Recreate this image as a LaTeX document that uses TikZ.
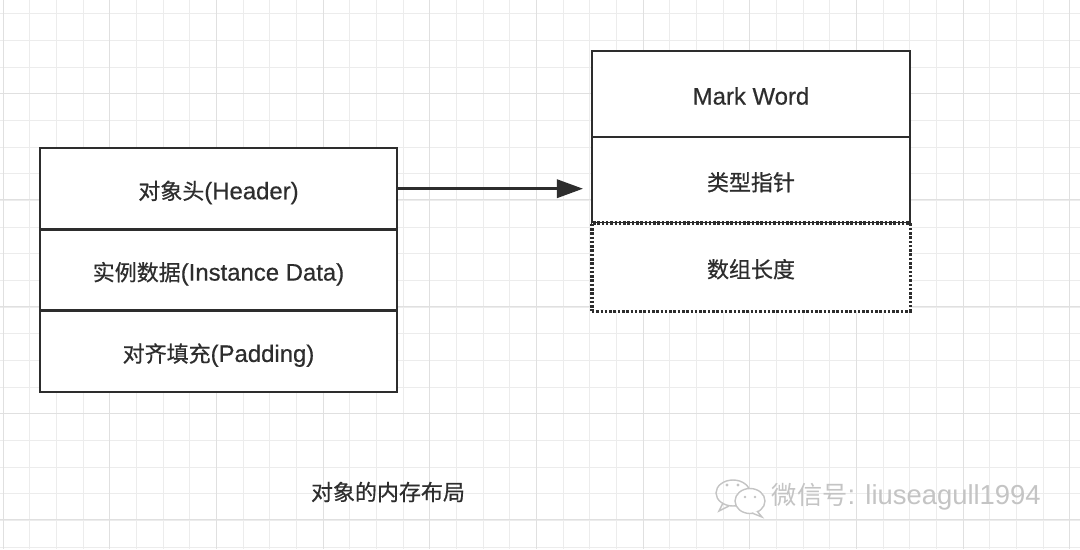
\documentclass[tikz,border=0pt]{standalone}
\usepackage{fontspec}
\setmainfont{Liberation Sans}[FakeBold=0.5]
\newfontfamily\cjk[Scale=0.92, FakeBold=0.6]{Noto Sans CJK SC}
\newfontfamily\marklatin{Liberation Sans}
\newfontfamily\markcjk[Scale=0.92]{Noto Sans CJK SC}
\usetikzlibrary{arrows.meta,positioning}
\definecolor{inkgray}{RGB}{45,45,45}
\definecolor{gridminor}{RGB}{236,236,236}
\definecolor{gridmajor}{RGB}{224,224,224}
\definecolor{markgray}{RGB}{196,196,196}

\begin{document}
\begin{tikzpicture}[x=0.025cm, y=-0.025cm, font=\fontsize{17}{20}\selectfont, text=inkgray,
    gridline/.style={draw=gridminor, line width=0.025cm},
    gridbold/.style={draw=gridmajor, line width=0.03cm},
    cell/.style={rectangle, draw=inkgray, fill=white, line width=2pt, inner sep=0pt, outer sep=0pt, align=center, text height=15pt, text depth=0pt},
    leftcell/.style={cell, minimum width=8.925cm, minimum height=2.033cm},
    rightcell/.style={cell, minimum width=7.95cm, minimum height=2.15cm},
    dotcell/.style={line width=2.2pt, dash pattern=on 1.8pt off 1.25pt, minimum height=2.2cm},
    link/.style={draw=inkgray, line width=1.8pt, -{Triangle[length=18.5pt,width=13pt]}}]

        % Background grid
        \fill[white] (0,0) rectangle (1080,549);
        \useasboundingbox (0,0) rectangle (1080,549);
        \foreach \i in {0,...,40} \draw[gridline] ({round(2.7+26.667*\i)+0.5},0) -- ++(0,549);
        \foreach \i in {0,...,20} \draw[gridline] (0,{round(13.3+26.667*\i)+0.5}) -- ++(1080,0);
        \foreach \i in {0,...,10} \draw[gridbold] ({round(2.7+106.667*\i)+0.5},0) -- ++(0,549);
        \foreach \i in {1,...,5} \draw[gridbold] (0,{round(-14+106.667*\i)+0.5}) -- ++(1080,0);

        % Object layout
        \node[leftcell] (header) at (218.5,188.7) {{\cjk 对象头}(Header)};
        \node[leftcell, below=0pt of header] (instance) {{\cjk 实例数据}(Instance Data)};
        \node[leftcell, below=0pt of instance] (padding) {{\cjk 对齐填充}(Padding)};

        % Header layout
        \node[rightcell] (markword) at (751,94) {Mark Word};
        \node[rightcell, below=0pt of markword] (klass) {{\cjk 类型指针}};
        \node[rightcell, dotcell, below=0pt of klass] (arrlen) {{\cjk 数组长度}};

        \draw[link, shorten >=0.225cm] (header.east) -- (header.east -| klass.west);

        \node (caption) at (388,492) {{\cjk 对象的内存布局}};

        % Watermark
        \begin{scope}[draw=markgray, line width=1pt]
          \draw (733,493) ellipse [x radius=17, y radius=13];
          \draw (723,503) -- (719,511) -- (729,506);
          \draw[fill=white] (750,501) ellipse [x radius=15, y radius=12.5];
          \draw[fill=white] (757,511) -- (762,517) -- (752,513);
          \fill[markgray] (727,485) circle [radius=1.6] (738,485) circle [radius=1.6];
          \fill[markgray] (745,497) circle [radius=1.4] (755,497) circle [radius=1.4];
        \end{scope}
        \node[anchor=west, text=markgray, font=\fontsize{19.5}{22}\selectfont\marklatin] (wechatid) at (767,497) {{\markcjk 微信号}: liuseagull1994};
\end{tikzpicture}
\end{document}
